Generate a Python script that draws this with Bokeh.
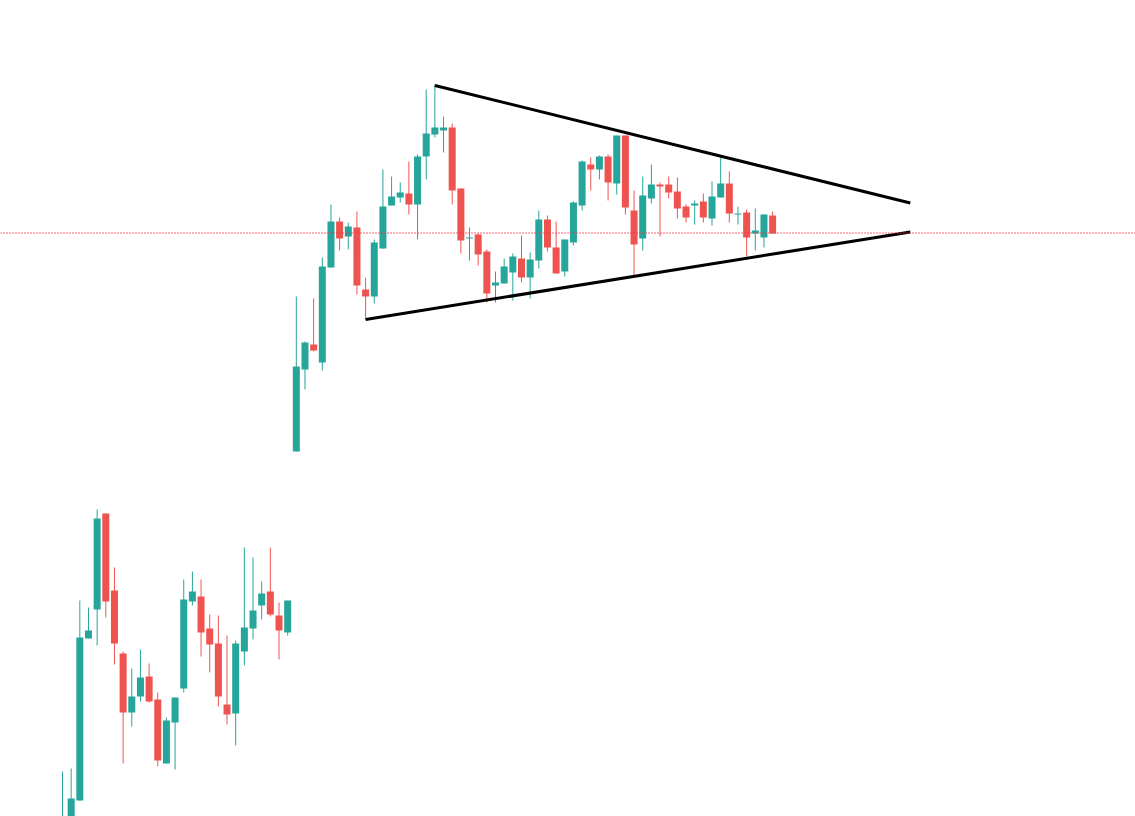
from bokeh.plotting import figure
from bokeh.models import Range1d, ColumnDataSource, Span
from bokeh.embed import file_html
from bokeh.resources import INLINE

# OHLC (arbitrary price units)
opens  = [60, 78, 100, 262, 291, 387, 310, 247, 188, 204, 224, 201, 137, 178, 212, 299, 304, 272, 257, 196,
          187, 249, 272, 295, 309, 285, 268, 449, 531, 556, 538, 633, 679, 664, 673, 611, 604, 652, 695, 703,
          707, 696, 744, 766, 770, 773, 712, 662, 666, 649, 615, 617, 628, 642, 623, 640, 681, 653, 629, 658,
          695, 736, 731, 744, 717, 765, 690, 662, 702, 716, 716, 709, 694, 695, 699, 682, 703, 717, 686, 688,
          667, 663, 685]
highs  = [129, 132, 300, 293, 391, 387, 333, 249, 232, 251, 237, 208, 183, 203, 321, 329, 321, 286, 285, 265,
          260, 353, 343, 319, 353, 298, 300, 604, 559, 602, 643, 696, 683, 678, 689, 623, 661, 731, 724, 718,
          739, 746, 811, 816, 784, 777, 712, 673, 667, 651, 629, 642, 647, 665, 648, 690, 685, 679, 661, 699,
          740, 743, 745, 746, 765, 765, 710, 724, 736, 718, 724, 723, 696, 700, 707, 719, 745, 729, 694, 691,
          692, 686, 689]
lows   = [55, 74, 100, 262, 255, 283, 236, 137, 174, 199, 198, 134, 137, 131, 208, 295, 244, 228, 194, 176,
          155, 235, 261, 281, 284, 241, 265, 449, 511, 549, 530, 633, 650, 651, 606, 581, 597, 652, 695, 698,
          686, 661, 721, 763, 748, 696, 647, 640, 635, 598, 598, 617, 600, 618, 602, 632, 649, 627, 624, 655,
          690, 710, 721, 700, 706, 686, 623, 650, 697, 664, 702, 682, 678, 676, 678, 675, 703, 678, 676, 644,
          650, 653, 667]
closes = [75, 102, 263, 270, 382, 299, 257, 188, 204, 223, 199, 140, 180, 203, 301, 309, 268, 256, 204, 186,
          257, 273, 290, 307, 286, 270, 300, 534, 558, 550, 634, 679, 662, 674, 615, 604, 658, 694, 704, 708,
          696, 744, 767, 773, 773, 710, 660, 663, 646, 607, 618, 634, 644, 623, 641, 681, 653, 627, 661, 698,
          739, 731, 744, 718, 765, 693, 656, 705, 716, 714, 708, 692, 683, 697, 683, 704, 717, 687, 687, 663,
          670, 686, 667]

# Reference level and triangle trend lines (bar index, price)
level_price = 667.5
upper_x = [43, 97.9]
upper_y = [815, 697.5]
lower_x = [35, 97.9]
lower_y = [581, 668.5]

UP = "#26a69a"
DOWN = "#ef5350"

idx = list(range(len(opens)))
colors = [UP if c >= o else DOWN for o, c in zip(opens, closes)]
src = ColumnDataSource(dict(
    x=idx,
    top=[max(o, c) for o, c in zip(opens, closes)],
    bottom=[min(o, c) for o, c in zip(opens, closes)],
    high=highs, low=lows, color=colors,
))

p = figure(width=1135, height=816, output_backend="svg", toolbar_location=None,
           x_range=Range1d(-62 / 8.66, (1135 - 62) / 8.66),
           y_range=Range1d(84, 900), min_border=0,
           background_fill_color="white", border_fill_color="white")
p.outline_line_color = None
p.xaxis.visible = False
p.yaxis.visible = False
p.xgrid.visible = False
p.ygrid.visible = False

p.add_layout(Span(location=level_price, dimension="width", line_color="#f23645",
                  line_width=1.5, line_dash="1 2"))

p.segment(x0="x", y0="low", x1="x", y1="high", source=src, line_color="color", line_width=1)
p.vbar(x="x", top="top", bottom="bottom", width=0.81, source=src,
       fill_color="color", line_color=None)

p.line(upper_x, upper_y, line_color="black", line_width=3)
p.line(lower_x, lower_y, line_color="black", line_width=3)

open("out.html", "w").write(file_html(p, INLINE))
